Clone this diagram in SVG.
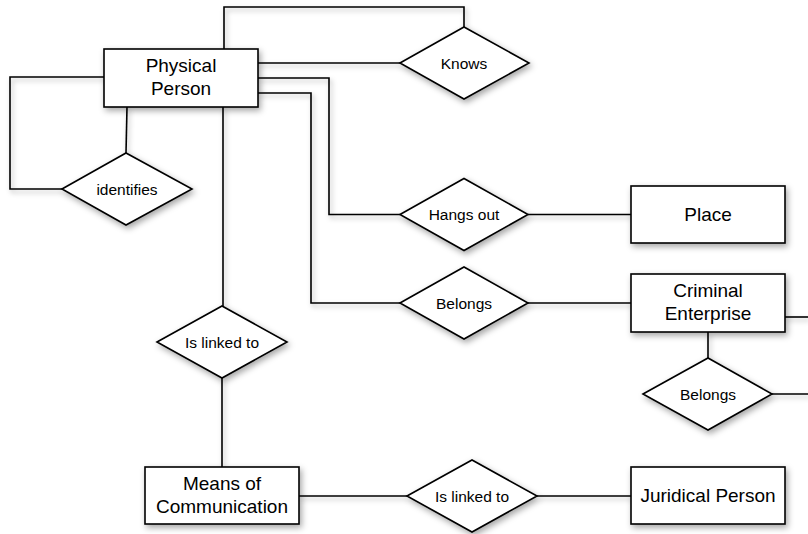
<svg xmlns="http://www.w3.org/2000/svg" width="808" height="534" viewBox="0 0 808 534">
<defs>
<filter id="sh" x="-20%" y="-20%" width="150%" height="160%">
<feDropShadow dx="2" dy="3" stdDeviation="3" flood-color="#000" flood-opacity="0.35"/>
</filter>
<filter id="lsh" x="-5%" y="-5%" width="110%" height="110%" filterUnits="userSpaceOnUse">
<feDropShadow dx="2" dy="3" stdDeviation="2.5" flood-color="#000" flood-opacity="0.3"/>
</filter>
</defs>
<style>
.ent rect{fill:#fff;stroke:#000;stroke-width:1.6;filter:url(#sh)}
.rel polygon{fill:#fff;stroke:#000;stroke-width:1.6;filter:url(#sh)}
.ent text{font-family:"Liberation Sans",Arial,Helvetica,sans-serif;font-size:19px;text-anchor:middle;fill:#000}
.rel text{font-family:"Liberation Sans",Arial,Helvetica,sans-serif;font-size:15.5px;text-anchor:middle;fill:#000}
#connectors path{fill:none;stroke:#000;stroke-width:1.6}
</style>
<rect width="808" height="534" fill="#fff"/>
<g id="connectors" filter="url(#lsh)">
<path d="M224,49 V7 H464 V27"/>
<path d="M258,63 H400"/>
<path d="M258,78 H329 V214.5 H400"/>
<path d="M258,93 H311 V303 H400"/>
<path d="M104,77 H10 V189 H62"/>
<path d="M127,107 L126,153"/>
<path d="M223,107 V306"/>
<path d="M222,378 V467"/>
<path d="M528,214.5 H631"/>
<path d="M528,303 H631"/>
<path d="M708,332 V358"/>
<path d="M785,317 H808"/>
<path d="M772,394 H808"/>
<path d="M299,496 H407"/>
<path d="M537,496 H631"/>
</g>
<g id="physical-person" class="ent">
<rect x="104" y="49" width="154" height="58"/>
<text x="181" y="72">Physical</text>
<text x="181" y="95">Person</text>
</g>
<g id="place" class="ent">
<rect x="631" y="186" width="154" height="57"/>
<text x="708" y="221">Place</text>
</g>
<g id="criminal-enterprise" class="ent">
<rect x="631" y="274" width="154" height="58"/>
<text x="708" y="297">Criminal</text>
<text x="708" y="320">Enterprise</text>
</g>
<g id="means-of-communication" class="ent">
<rect x="145" y="467" width="154" height="57"/>
<text x="222" y="490">Means of</text>
<text x="222" y="513">Communication</text>
</g>
<g id="juridical-person" class="ent">
<rect x="631" y="467" width="154" height="57"/>
<text x="708" y="502">Juridical Person</text>
</g>
<g id="knows" class="rel">
<polygon points="400,63 464,27 529,63 464,99"/>
<text x="464" y="68.5">Knows</text>
</g>
<g id="identifies" class="rel">
<polygon points="62,189 126,153 192,189 126,225"/>
<text x="127" y="194.5">identifies</text>
</g>
<g id="hangs-out" class="rel">
<polygon points="400,214.5 464,178.5 528,214.5 464,250.5"/>
<text x="464" y="220">Hangs out</text>
</g>
<g id="belongs-1" class="rel">
<polygon points="400,303 464,267 528,303 464,339"/>
<text x="464" y="308.5">Belongs</text>
</g>
<g id="belongs-2" class="rel">
<polygon points="643,394 708,358 772,394 708,430"/>
<text x="708" y="399.5">Belongs</text>
</g>
<g id="is-linked-to-1" class="rel">
<polygon points="157,342 222,306 287,342 222,378"/>
<text x="222" y="347.5">Is linked to</text>
</g>
<g id="is-linked-to-2" class="rel">
<polygon points="407,496 472,460 537,496 472,532"/>
<text x="472" y="501.5">Is linked to</text>
</g>
</svg>
